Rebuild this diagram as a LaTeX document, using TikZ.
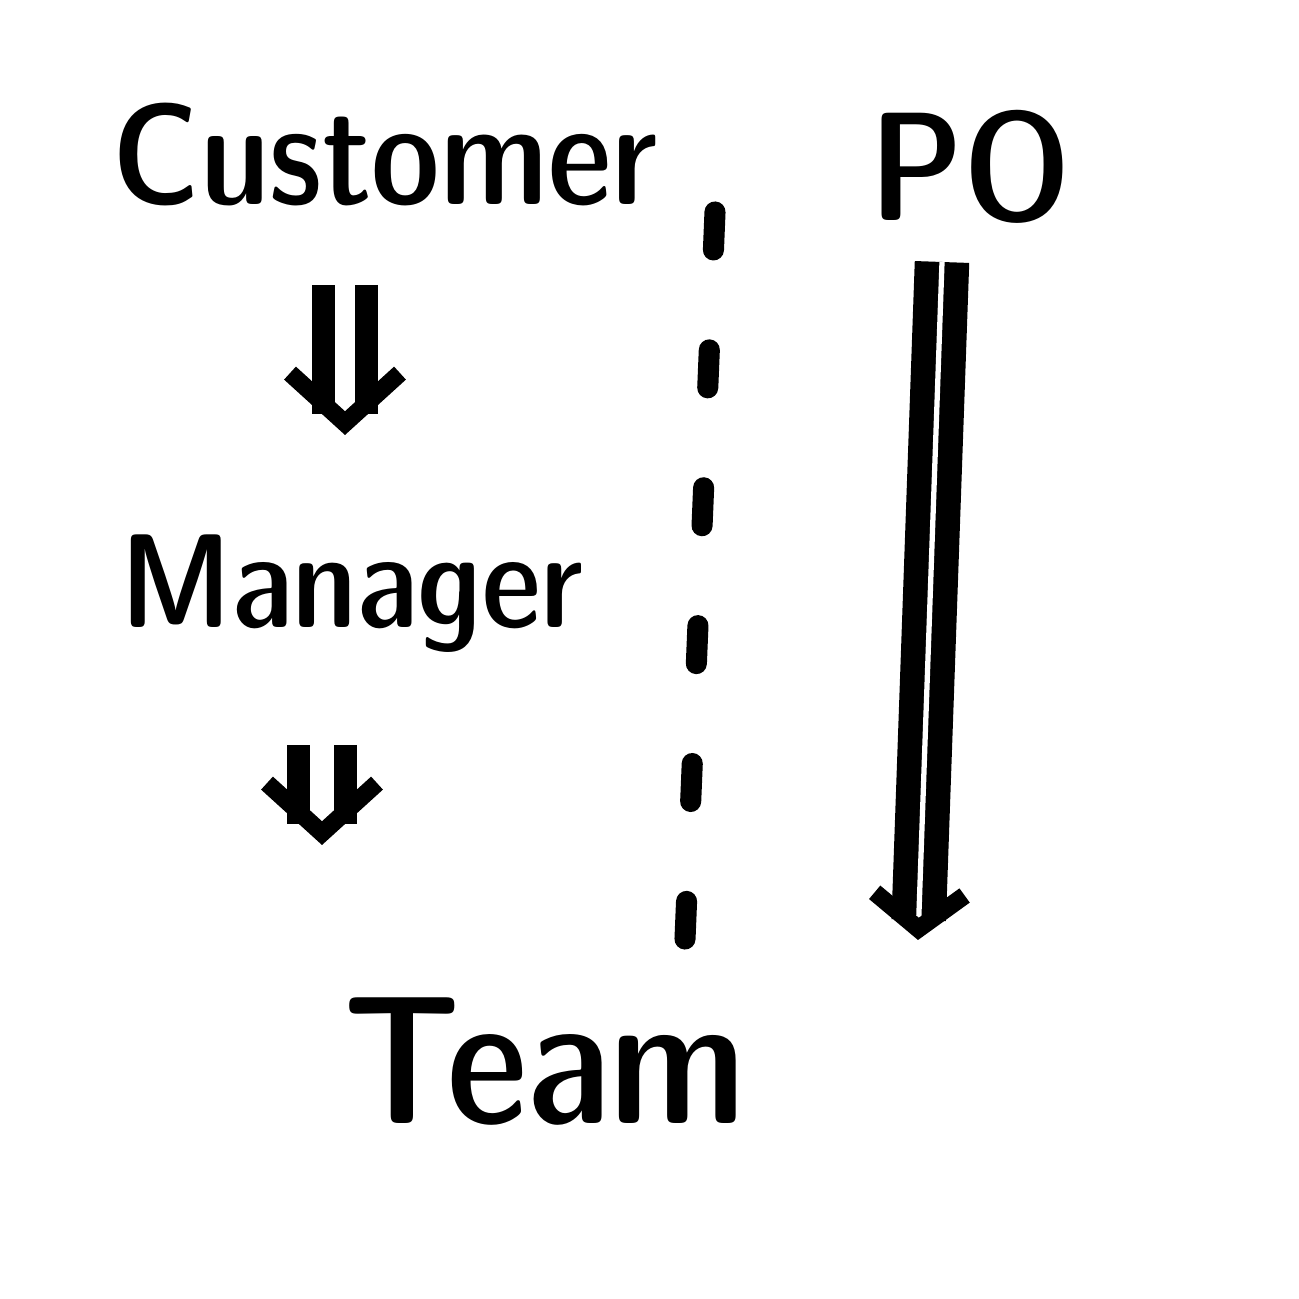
\documentclass[tikz,border=0pt]{standalone}
\usetikzlibrary{arrows.meta, positioning}

\begin{document}
\begin{tikzpicture}[>=Implies, thick]
        % Estilos
        \tikzstyle{word} = [font=\sffamily\fontseries{sbc}\fontsize{41}{50}\selectfont, inner sep=0pt]
        \tikzstyle{dbl} = [line width=6.5pt, double distance=5.5pt, line cap=butt, -{Straight Barb[length=0.5cm, width=1.1cm, line width=5pt]}]
        \tikzstyle{dblpo} = [line width=7pt, double distance=1.5pt, line cap=butt, -{Straight Barb[length=0.35cm, width=0.9cm, line width=5pt]}]
        \tikzstyle{dashline} = [line width=6pt, line cap=round, dash pattern=on 0.38cm off 1.0cm]
        % Paper
        \useasboundingbox[fill=white] (0,0) rectangle (12.98,12.99);
        % Nodes
        \node [word] (customer) at (3.85,11.44) {Customer}; % Customer
        \node [word, font=\sffamily\fontseries{sbc}\fontsize{38}{46}\selectfont] (manager) at (3.52,7.05) {Manager}; % Manager
        \node [word, font=\sffamily\fontseries{sbc}\fontsize{52}{60}\selectfont] (team) at (5.45,2.37) {Team}; % Team
        \node [word, font=\sffamily\fontseries{sbc}\fontsize{44}{52}\selectfont] (po) at (9.70,11.32) {PO}; % PO
        \coordinate (arrowTop1) at (3.45,10.14);
        \coordinate (arrowEnd1) at (3.45,8.64);
        \coordinate (arrowTop2) at (3.22,5.54);
        \coordinate (arrowEnd2) at (3.22,4.54);
        \coordinate (poTop) at (9.42,10.37);
        \coordinate (poEnd) at (9.18,3.59);
        \coordinate (splitTop) at (7.15,10.87);
        \coordinate (splitEnd) at (6.85,3.60);
        % Connections
        \draw[dbl, double] (arrowTop1) -- (arrowEnd1); % Customer to Manager
        \draw[dbl, double, double distance=7pt] (arrowTop2) -- (arrowEnd2); % Manager to Team
        \draw[dblpo, double] (poTop) -- (poEnd); % PO to Team
        \draw[dashline] (splitTop) -- (splitEnd); % Separator
\end{tikzpicture}
\end{document}
